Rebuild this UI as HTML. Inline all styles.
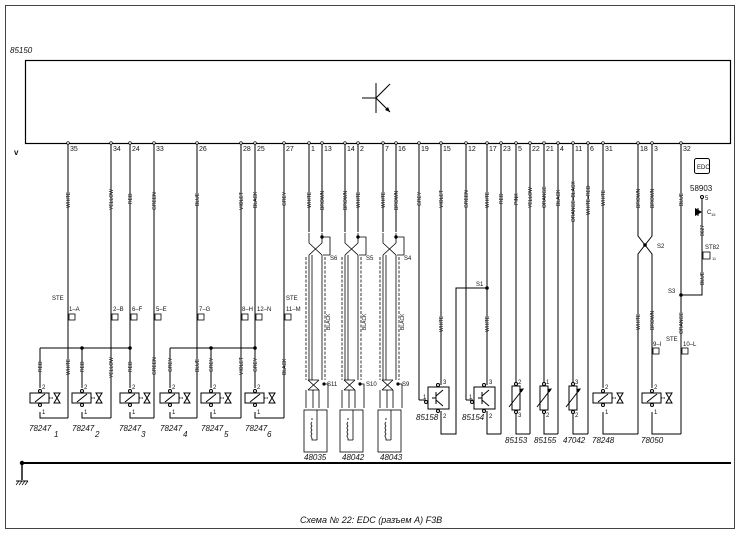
<!DOCTYPE html>
<html><head><meta charset="utf-8"><style>
html,body{margin:0;padding:0;background:#fff}
svg{display:block}
text{font-family:"Liberation Sans",sans-serif;fill:#111}
.n{font-size:7px}
.c{font-size:5px}
.l{font-size:8px;font-style:italic}
</style></head><body>
<svg width="739" height="534" viewBox="0 0 739 534" xmlns="http://www.w3.org/2000/svg">
<defs>
<g id="relay" fill="none" stroke="#000" stroke-width="1">
<rect x="-10" y="-5" width="19" height="10" fill="#fff"/>
<line x1="-5" y1="4" x2="5" y2="-4"/>
<circle cx="0" cy="-7" r="1.5" fill="#fff"/><circle cx="0" cy="7" r="1.5" fill="#fff"/>
<line x1="9" y1="0" x2="14" y2="0" stroke-dasharray="1.5 1"/>
<path d="M14,-5 L20,-5 L14,5 L20,5 Z"/>
</g>
<g id="res" fill="none" stroke="#000" stroke-width="1">
<rect x="-4" y="-12" width="8" height="24" fill="#fff"/>
<line x1="-7" y1="9" x2="7" y2="-9"/>
<path d="M7,-9 l-3,0.5 l1.5,2 z" fill="#000"/>
<circle cx="0" cy="-14" r="1.5" fill="#fff"/><circle cx="0" cy="14" r="1.5" fill="#fff"/>
</g>
<g id="tr" fill="none" stroke="#000" stroke-width="1">
<rect x="-10" y="-11" width="21" height="22" fill="#fff"/>
<line x1="-6" y1="0" x2="-2" y2="0"/><line x1="-2" y1="-6" x2="-2" y2="6"/>
<line x1="-2" y1="-2" x2="5" y2="-8"/><line x1="-2" y1="2" x2="5" y2="8"/>
<circle cx="0" cy="-13" r="1.5" fill="#fff"/><circle cx="0" cy="13" r="1.5" fill="#fff"/><circle cx="-12" cy="4" r="1.5" fill="#fff"/>
</g>
<g id="pair" fill="none" stroke="#000" stroke-width="0.8">
<path d="M0,90 L0,100 L13,112 M13,90 L13,100 L0,112"/>
<circle cx="13" cy="94" r="1.3" fill="#000"/>
<path d="M13,94 L21,94 L21,112 L14,112"/>
<line x1="-3" y1="114" x2="-3" y2="237" stroke-dasharray="3 1.5"/>
<line x1="16" y1="114" x2="16" y2="237" stroke-dasharray="3 1.5"/>
<line x1="0" y1="112" x2="0" y2="237"/><line x1="3" y1="112" x2="3" y2="237"/>
<line x1="13" y1="112" x2="13" y2="237"/>
<path d="M-1,237 L10,247 M10,237 L-1,247 M-1,237 L10,237 M-1,247 L10,247"/>
<circle cx="15" cy="241" r="1.2" fill="#000"/>
<path d="M15,241 L19,241 L19,265"/>
<line x1="-3" y1="247" x2="-3" y2="265"/><line x1="4" y1="247" x2="4" y2="265"/><line x1="10" y1="247" x2="10" y2="265"/>
<rect x="-5" y="267" width="23" height="42" fill="#fff"/>
<line x1="8" y1="267" x2="8" y2="297"/>
<path d="M3,279 q-2,2 0,4 q-2,2 0,4 q-2,2 0,4 q-2,2 0,4"/>
<path d="M3,275 L3,277 M3,295 L3,297 L8,297"/>
</g>
</defs>

<rect x="5.5" y="5.5" width="729" height="523" fill="none" stroke="#444" stroke-width="1"/>
<text x="10" y="53" class="l">85150</text>
<rect x="25.5" y="60.5" width="705" height="83" fill="none" stroke="#000" stroke-width="1.2"/>
<g stroke="#000" stroke-width="1" fill="none">
<line x1="376" y1="83" x2="376" y2="113"/><line x1="362" y1="98" x2="376" y2="98"/>
<line x1="376" y1="98" x2="390" y2="84"/><line x1="376" y1="98" x2="390" y2="112"/>
</g>
<path d="M390,112 l-5,-2 l3,-3 z" fill="#000"/>
<text x="14" y="155" style="font-size:8px;font-weight:bold">v</text>

<g stroke="#000" stroke-width="1" fill="none">
<line x1="68" y1="143" x2="68" y2="418"/>
<line x1="111" y1="143" x2="111" y2="418"/>
<line x1="130" y1="143" x2="130" y2="348"/>
<line x1="154" y1="143" x2="154" y2="418"/>
<line x1="197" y1="143" x2="197" y2="418"/>
<line x1="241" y1="143" x2="241" y2="418"/>
<line x1="255" y1="143" x2="255" y2="348"/>
<line x1="284" y1="143" x2="284" y2="418"/>
<line x1="309" y1="143" x2="309" y2="232"/><line x1="322" y1="143" x2="322" y2="232"/>
<line x1="345" y1="143" x2="345" y2="232"/><line x1="358" y1="143" x2="358" y2="232"/>
<line x1="383" y1="143" x2="383" y2="232"/><line x1="396" y1="143" x2="396" y2="232"/>
<line x1="419" y1="143" x2="419" y2="400"/><line x1="419" y1="400" x2="426" y2="400"/>
<line x1="441" y1="143" x2="441" y2="385"/>
<line x1="466" y1="143" x2="466" y2="400"/><line x1="466" y1="400" x2="473" y2="400"/>
<line x1="487" y1="143" x2="487" y2="385"/>
<line x1="501" y1="143" x2="501" y2="434"/>
<line x1="516" y1="143" x2="516" y2="384"/>
<line x1="530" y1="143" x2="530" y2="434"/>
<line x1="544" y1="143" x2="544" y2="384"/>
<line x1="558" y1="143" x2="558" y2="434"/>
<line x1="573" y1="143" x2="573" y2="384"/>
<line x1="588" y1="143" x2="588" y2="434"/>
<line x1="603" y1="143" x2="603" y2="388"/>
<path d="M638,143 L638,236 L652,254 L652,260 M652,143 L652,236 L638,254 L638,434"/>
<line x1="652" y1="254" x2="652" y2="388"/>
<line x1="681" y1="143" x2="681" y2="434"/>
<line x1="40" y1="348" x2="130" y2="348"/><line x1="40" y1="348" x2="40" y2="388"/><line x1="82" y1="348" x2="82" y2="388"/><line x1="130" y1="348" x2="130" y2="388"/>
<line x1="170" y1="348" x2="255" y2="348"/><line x1="170" y1="348" x2="170" y2="388"/><line x1="211" y1="348" x2="211" y2="388"/><line x1="255" y1="348" x2="255" y2="388"/>
<path d="M40,412 L40,418 L68,418 M82,412 L82,418 L111,418 M130,412 L130,418 L154,418 M170,412 L170,418 L197,418 M211,412 L211,418 L241,418 M255,412 L255,418 L284,418"/>
<path d="M441,411 L441,434 L456,434 L456,288 L487,288 M487,411 L487,434 L501,434 M516,412 L516,434 L530,434 M544,412 L544,434 L558,434 M573,412 L573,434 L588,434 M603,412 L603,434 L638,434 M652,412 L652,434 L681,434"/>
<path d="M681,295 L702,295 L702,199"/>
<circle cx="702" cy="197" r="1.5" fill="#fff"/>
<line x1="22" y1="463" x2="731" y2="463" stroke-width="2"/>
<line x1="22" y1="463" x2="22" y2="480" stroke-width="1.4"/>
<line x1="16" y1="481" x2="28" y2="481"/>
<path d="M16,485 l3,-4 M19,485 l3,-4 M22,485 l3,-4 M25,485 l3,-4" stroke-width="0.7"/>
</g>
<path d="M702,212 l-7,-4 l0,8 z" fill="#000"/><line x1="698" y1="208" x2="698" y2="216" stroke="#000"/>
<g fill="#000">
<circle cx="82" cy="348" r="1.8"/><circle cx="130" cy="348" r="1.8"/><circle cx="211" cy="348" r="1.8"/><circle cx="255" cy="348" r="1.8"/>
<circle cx="487" cy="288" r="1.8"/><circle cx="681" cy="295" r="1.8"/><circle cx="645" cy="245" r="1.8"/><circle cx="22" cy="463" r="2.2"/>
</g>
<g fill="#fff" stroke="#000" stroke-width="0.7">
<circle cx="68" cy="143" r="1.3"/><circle cx="111" cy="143" r="1.3"/><circle cx="130" cy="143" r="1.3"/><circle cx="154" cy="143" r="1.3"/><circle cx="197" cy="143" r="1.3"/><circle cx="241" cy="143" r="1.3"/><circle cx="255" cy="143" r="1.3"/><circle cx="284" cy="143" r="1.3"/><circle cx="309" cy="143" r="1.3"/><circle cx="322" cy="143" r="1.3"/><circle cx="345" cy="143" r="1.3"/><circle cx="358" cy="143" r="1.3"/><circle cx="383" cy="143" r="1.3"/><circle cx="396" cy="143" r="1.3"/><circle cx="419" cy="143" r="1.3"/><circle cx="441" cy="143" r="1.3"/><circle cx="466" cy="143" r="1.3"/><circle cx="487" cy="143" r="1.3"/><circle cx="501" cy="143" r="1.3"/><circle cx="516" cy="143" r="1.3"/><circle cx="530" cy="143" r="1.3"/><circle cx="544" cy="143" r="1.3"/><circle cx="558" cy="143" r="1.3"/><circle cx="573" cy="143" r="1.3"/><circle cx="588" cy="143" r="1.3"/><circle cx="603" cy="143" r="1.3"/><circle cx="638" cy="143" r="1.3"/><circle cx="652" cy="143" r="1.3"/><circle cx="681" cy="143" r="1.3"/>
</g>
<g class="n">
<text x="70" y="151">35</text><text x="113" y="151">34</text><text x="132" y="151">24</text><text x="156" y="151">33</text><text x="199" y="151">26</text><text x="243" y="151">28</text><text x="257" y="151">25</text><text x="286" y="151">27</text><text x="311" y="151">1</text><text x="324" y="151">13</text><text x="347" y="151">14</text><text x="360" y="151">2</text><text x="385" y="151">7</text><text x="398" y="151">16</text><text x="421" y="151">19</text><text x="443" y="151">15</text><text x="468" y="151">12</text><text x="489" y="151">17</text><text x="503" y="151">23</text><text x="518" y="151">5</text><text x="532" y="151">22</text><text x="546" y="151">21</text><text x="560" y="151">4</text><text x="575" y="151">11</text><text x="590" y="151">6</text><text x="605" y="151">31</text><text x="640" y="151">18</text><text x="654" y="151">3</text><text x="683" y="151">32</text>
</g>

<use href="#pair" x="309" y="143"/>
<use href="#pair" x="345" y="143"/>
<use href="#pair" x="383" y="143"/>

<g fill="#fff" stroke="#000" stroke-width="0.8">
<rect x="69" y="314" width="6" height="6"/><rect x="112" y="314" width="6" height="6"/><rect x="131" y="314" width="6" height="6"/><rect x="155" y="314" width="6" height="6"/><rect x="198" y="314" width="6" height="6"/><rect x="242" y="314" width="6" height="6"/><rect x="256" y="314" width="6" height="6"/><rect x="285" y="314" width="6" height="6"/>
<rect x="653" y="348" width="6" height="6"/><rect x="682" y="348" width="6" height="6"/><rect x="703" y="252" width="7" height="7"/>
</g>
<g class="c" style="font-size:6px">
<text x="52" y="300">STE</text><text x="69" y="311">1–A</text><text x="113" y="311">2–B</text><text x="132" y="311">6–F</text><text x="156" y="311">5–E</text><text x="199" y="311">7–G</text><text x="242" y="311">8–H</text><text x="257" y="311">12–N</text><text x="286" y="300">STE</text><text x="286" y="311">11–M</text>
<text x="666" y="341">STE</text><text x="653" y="346">9–I</text><text x="683" y="346">10–L</text>
<text x="330" y="260">S6</text><text x="366" y="260">S5</text><text x="404" y="260">S4</text>
<text x="327" y="386">S11</text><text x="366" y="386">S10</text><text x="402" y="386">S9</text>
<text x="476" y="286">S1</text><text x="657" y="248">S2</text><text x="668" y="293">S3</text>
<text x="705" y="249">ST82</text><text x="712" y="260" style="font-size:4px">11</text>
<text x="705" y="200">5</text><text x="707" y="214">C</text><text x="711" y="216" style="font-size:4px">15</text>
</g>

<use href="#relay" x="40" y="398"/><use href="#relay" x="82" y="398"/><use href="#relay" x="130" y="398"/><use href="#relay" x="170" y="398"/><use href="#relay" x="211" y="398"/><use href="#relay" x="255" y="398"/>
<use href="#relay" x="603" y="398"/><use href="#relay" x="652" y="398"/>
<use href="#tr" x="438" y="398"/><use href="#tr" x="484" y="398"/>
<use href="#res" x="516" y="398"/><use href="#res" x="544" y="398"/><use href="#res" x="573" y="398"/>
<g class="c" style="font-size:6px">
<text x="42" y="389">2</text><text x="42" y="414">1</text><text x="84" y="389">2</text><text x="84" y="414">1</text><text x="132" y="389">2</text><text x="132" y="414">1</text><text x="172" y="389">2</text><text x="172" y="414">1</text><text x="213" y="389">2</text><text x="213" y="414">1</text><text x="257" y="389">2</text><text x="257" y="414">1</text>
<text x="605" y="389">2</text><text x="605" y="414">1</text><text x="654" y="389">2</text><text x="654" y="414">1</text>
<text x="443" y="384">3</text><text x="443" y="418">2</text><text x="423" y="399">1</text><text x="489" y="384">3</text><text x="489" y="418">2</text><text x="469" y="399">1</text>
<text x="518" y="384">2</text><text x="518" y="417">3</text><text x="546" y="384">1</text><text x="546" y="417">2</text><text x="575" y="384">3</text><text x="575" y="417">2</text>
</g>
<g class="l">
<text x="29" y="431">78247</text><text x="54" y="437">1</text>
<text x="72" y="431">78247</text><text x="95" y="437">2</text>
<text x="119" y="431">78247</text><text x="141" y="437">3</text>
<text x="160" y="431">78247</text><text x="183" y="437">4</text>
<text x="201" y="431">78247</text><text x="224" y="437">5</text>
<text x="245" y="431">78247</text><text x="267" y="437">6</text>
<text x="304" y="460">48035</text><text x="342" y="460">48042</text><text x="380" y="460">48043</text>
<text x="416" y="420">85158</text><text x="462" y="420">85154</text>
<text x="505" y="443">85153</text><text x="534" y="443">85155</text><text x="563" y="443">47042</text><text x="592" y="443">78248</text><text x="641" y="443">78050</text>
</g>
<text x="690" y="191" style="font-size:8px">58903</text>
<rect x="694.5" y="158.5" width="15" height="15" rx="2" fill="#fff" stroke="#000"/>
<text x="697" y="169" style="font-size:6px">EDC</text>

<g class="c">
<text transform="translate(70,208) rotate(-90)">WHITE</text>
<text transform="translate(113,210) rotate(-90)">YELLOW</text>
<text transform="translate(132,204) rotate(-90)">RED</text>
<text transform="translate(156,210) rotate(-90)">GREEN</text>
<text transform="translate(199,206) rotate(-90)">BLUE</text>
<text transform="translate(243,210) rotate(-90)">VIOLET</text>
<text transform="translate(257,208) rotate(-90)">BLACK</text>
<text transform="translate(286,206) rotate(-90)">GREY</text>
<text transform="translate(311,208) rotate(-90)">WHITE</text><text transform="translate(324,210) rotate(-90)">BROWN</text>
<text transform="translate(347,210) rotate(-90)">BROWN</text><text transform="translate(360,208) rotate(-90)">WHITE</text>
<text transform="translate(385,208) rotate(-90)">WHITE</text><text transform="translate(398,210) rotate(-90)">BROWN</text>
<text transform="translate(421,206) rotate(-90)">GREY</text>
<text transform="translate(443,208) rotate(-90)">VIOLET</text>
<text transform="translate(468,208) rotate(-90)">GREEN</text>
<text transform="translate(489,208) rotate(-90)">WHITE</text>
<text transform="translate(503,204) rotate(-90)">RED</text>
<text transform="translate(518,205) rotate(-90)">PINK</text>
<text transform="translate(532,208) rotate(-90)">YELLOW</text>
<text transform="translate(546,208) rotate(-90)">ORANGE</text>
<text transform="translate(560,206) rotate(-90)">BLACK</text>
<text transform="translate(575,222) rotate(-90)">ORANGE–BLACK</text>
<text transform="translate(590,215) rotate(-90)">WHITE–RED</text>
<text transform="translate(605,206) rotate(-90)">WHITE</text>
<text transform="translate(640,208) rotate(-90)">BROWN</text><text transform="translate(654,208) rotate(-90)">BROWN</text>
<text transform="translate(683,206) rotate(-90)">BLUE</text>
<text transform="translate(704,236) rotate(-90)">8627</text>
<text transform="translate(704,285) rotate(-90)">BLUE</text>
<text transform="translate(683,334) rotate(-90)">ORANGE</text>
<text transform="translate(640,330) rotate(-90)">WHITE</text><text transform="translate(654,330) rotate(-90)">BROWN</text>
<text transform="translate(443,332) rotate(-90)">WHITE</text><text transform="translate(489,332) rotate(-90)">WHITE</text>
<text transform="translate(330,330) rotate(-90)">BLACK</text><text transform="translate(366,330) rotate(-90)">BLACK</text><text transform="translate(404,330) rotate(-90)">BLACK</text>
<text transform="translate(42,372) rotate(-90)">RED</text><text transform="translate(70,375) rotate(-90)">WHITE</text>
<text transform="translate(84,372) rotate(-90)">RED</text><text transform="translate(113,378) rotate(-90)">YELLOW</text>
<text transform="translate(132,372) rotate(-90)">RED</text><text transform="translate(156,375) rotate(-90)">GREEN</text>
<text transform="translate(172,372) rotate(-90)">GREY</text><text transform="translate(199,372) rotate(-90)">BLUE</text>
<text transform="translate(213,372) rotate(-90)">GREY</text><text transform="translate(243,375) rotate(-90)">VIOLET</text>
<text transform="translate(257,372) rotate(-90)">GREY</text><text transform="translate(286,375) rotate(-90)">BLACK</text>
</g>
<text x="300" y="523" style="font-size:9px;font-style:italic">Схема № 22: EDC (разъем A) F3B</text>
</svg>
</body></html>
